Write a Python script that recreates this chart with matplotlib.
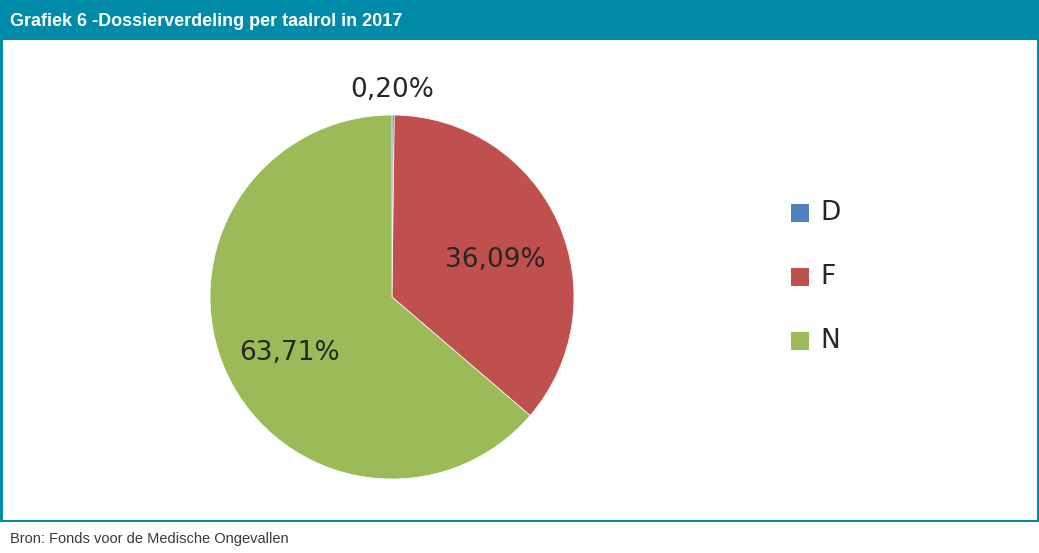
import matplotlib.pyplot as plt
from matplotlib.patches import Rectangle

# share of dossiers per language role, 2017
categories = ['D', 'F', 'N']
shares = [0.20, 36.09, 63.71]
colors = ['#4f81bd', '#c0504d', '#9bbb59']

title = 'Grafiek 6 -Dossierverdeling per taalrol in 2017'
source = 'Bron: Fonds voor de Medische Ongevallen'
teal = '#008ba8'

W, H = 1039, 553
fig = plt.figure(figsize=(W / 100, H / 100), dpi=100)


def px(x, y):
    # pixel position (top-left origin) to figure fraction
    return x / W, 1 - y / H


# header bar and frame
fig.patches.append(Rectangle(px(0, 40), 1, 40 / H, transform=fig.transFigure,
                             facecolor=teal, edgecolor='none'))
fig.patches.append(Rectangle(px(0, 521), 2.5 / W, 481 / H, transform=fig.transFigure,
                             facecolor=teal, edgecolor='none'))
fig.patches.append(Rectangle(px(1036.5, 521), 2.5 / W, 481 / H, transform=fig.transFigure,
                             facecolor=teal, edgecolor='none'))
fig.patches.append(Rectangle(px(0, 522), 1, 2.5 / H, transform=fig.transFigure,
                             facecolor=teal, edgecolor='none'))

fig.text(*px(10, 21), title, color='white', fontsize=13, fontweight='bold',
         family=['Liberation Sans', 'DejaVu Sans'], va='center', ha='left')
fig.text(*px(10, 539), source, color='#3a3a3a', fontsize=10.5,
         family=['Liberation Sans', 'DejaVu Sans'], va='center', ha='left')

# pie
cx, cy, r = 392, 297, 182
ax = fig.add_axes([(cx - r) / W, (H - cy - r) / H, 2 * r / W, 2 * r / H])
wedges, texts, autotexts = ax.pie(
    shares, colors=colors, startangle=90, counterclock=False,
    autopct=lambda p: f'{p:.2f}%'.replace('.', ','), pctdistance=0.62,
    wedgeprops=dict(edgecolor='white', linewidth=0.5),
    textprops=dict(fontsize=19, color='#262626', family='DejaVu Sans'))
# tiny slice: put its label above the pie
autotexts[0].set_position((0, 1.14))
for t in autotexts[1:]:
    x, y = t.get_position()
    t.set_position((x, y - 0.05))
ax.set_xlim(-1, 1)
ax.set_ylim(-1, 1)
ax.set_aspect('auto')
ax.axis('off')

# legend
for i, (cat, col) in enumerate(zip(categories, colors)):
    y = 213 + 64 * i
    fig.patches.append(Rectangle(px(791, y + 9), 18 / W, 18 / H,
                                 transform=fig.transFigure, facecolor=col, edgecolor='none'))
    fig.text(*px(820, y), cat, fontsize=19, color='#262626',
             family='DejaVu Sans', va='center', ha='left')

fig.savefig('out.png', dpi=100)
